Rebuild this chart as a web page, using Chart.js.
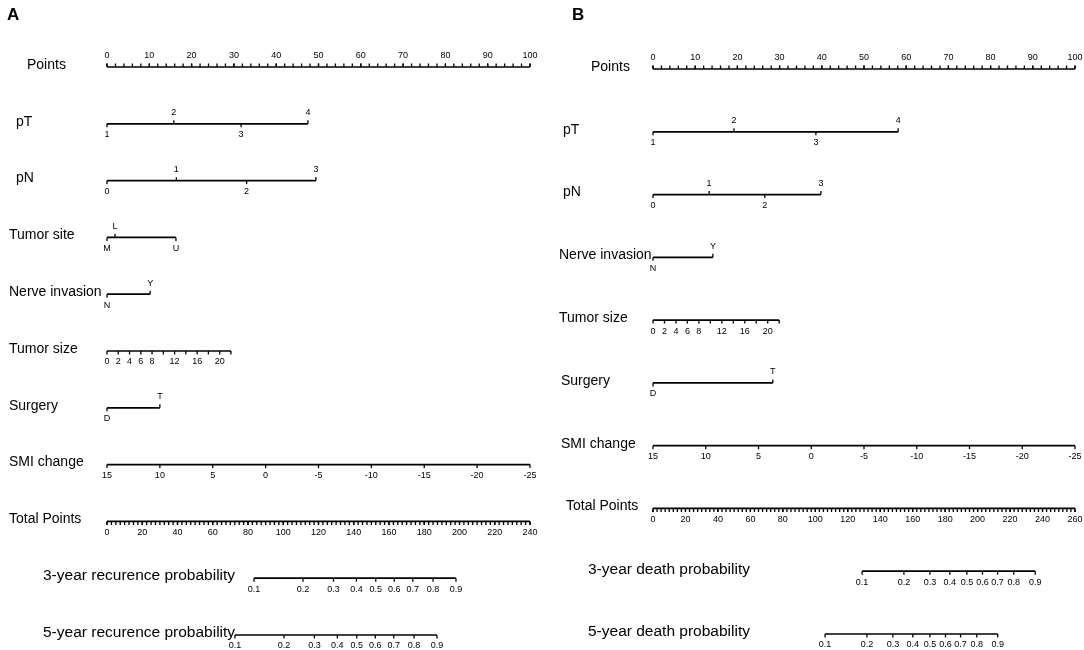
<!DOCTYPE html>
<html>
<head>
<meta charset="utf-8">
<script src="https://cdn.jsdelivr.net/npm/chart.js@4.4.1/dist/chart.umd.min.js"></script>
<style>
  html, body { margin: 0; padding: 0; background: #ffffff; }
  #wrap { display: flex; width: 1084px; height: 650px; }
  .panel { position: relative; width: 542px; height: 650px; }
</style>
</head>
<body>
<div id="wrap">
  <div class="panel"><canvas id="chartA"></canvas></div>
  <div class="panel"><canvas id="chartB"></canvas></div>
</div>
<script>
// ---------------- DATA ----------------
// Shared categories / tick labels
const pointsTicks = [0, 10, 20, 30, 40, 50, 60, 70, 80, 90, 100];
const pTLevels = ['1', '2', '3', '4'];
const pNLevels = ['0', '1', '2', '3'];
const siteLevels = ['M', 'L', 'U'];
const nerveLevels = ['N', 'Y'];
const surgeryLevels = ['D', 'T'];
const sizeValues = [0, 2, 4, 6, 8, 10, 12, 14, 16, 18, 20, 22];
const sizeLabels = ['0', '2', '4', '6', '8', '', '12', '', '16', '', '20', ''];
const smiValues = [15, 10, 5, 0, -5, -10, -15, -20, -25];
const probLevels = ['0.1', '0.2', '0.3', '0.4', '0.5', '0.6', '0.7', '0.8', '0.9'];

// Panel A (recurrence) – points assigned to each level
const pTPointsA = [0, 15.8, 31.7, 47.5];
const pNPointsA = [0, 16.4, 33.0, 49.4];
const sitePointsA = [0, 1.9, 16.3];
const nervePointsA = [0, 10.2];
const sizePointsA = [0, 2.66, 5.33, 7.99, 10.65, 13.32, 15.98, 18.64, 21.31, 23.97, 26.64, 29.3];
const surgeryPointsA = [0, 12.5];
const smiPointsA = [0, 12.5, 25, 37.5, 50, 62.5, 75, 87.5, 100];
const totalTicksA = [0, 20, 40, 60, 80, 100, 120, 140, 160, 180, 200, 220, 240];
const prob3TotalA = [83.4, 111.2, 128.5, 141.5, 152.5, 163.0, 173.5, 185.0, 198.0];
const prob5TotalA = [72.6, 100.4, 117.7, 130.7, 141.7, 152.2, 162.7, 174.2, 187.2];

// Panel B (death) – points assigned to each level
const pTPointsB = [0, 19.2, 38.6, 58.1];
const pNPointsB = [0, 13.3, 26.5, 39.8];
const nervePointsB = [0, 14.2];
const sizePointsB = [0, 2.72, 5.44, 8.15, 10.87, 13.59, 16.31, 19.03, 21.75, 24.46, 27.18, 29.9];
const surgeryPointsB = [0, 28.4];
const smiPointsB = [0, 12.5, 25, 37.5, 50, 62.5, 75, 87.5, 100];
const totalTicksB = [0, 20, 40, 60, 80, 100, 120, 140, 160, 180, 200, 220, 240, 260];
const prob3TotalB = [128.8, 154.6, 170.6, 182.9, 193.4, 203.0, 212.3, 222.3, 235.5];
const prob5TotalB = [106.0, 131.8, 147.8, 160.1, 170.6, 180.2, 189.5, 199.5, 212.4];

// ---------------- BUILDERS ----------------
const FONT = '"Liberation Sans", Arial, Helvetica, sans-serif';

function seq(a, b, step) { const r = []; for (let v = a; v <= b + 1e-9; v += step) r.push(+v.toFixed(4)); return r; }

function catMarks(levels, pts) {
  // alternate labels below / above like the reference
  return levels.map((t, i) => ({ v: pts[i], text: t, side: i % 2 === 0 ? 'below' : 'above' }));
}
function listMarks(labels, pts, side) {
  return labels.map((t, i) => ({ v: pts[i], text: String(t), side }));
}

function buildRowsA() {
  return [
    { name: 'Points', scale: 'x', marks: listMarks(pointsTicks, pointsTicks, 'above'), minor: seq(0, 100, 2), minorSide: 'above' },
    { name: 'pT', scale: 'x', marks: catMarks(pTLevels, pTPointsA) },
    { name: 'pN', scale: 'x', marks: catMarks(pNLevels, pNPointsA) },
    { name: 'Tumor site', scale: 'x', marks: catMarks(siteLevels, sitePointsA) },
    { name: 'Nerve invasion', scale: 'x', marks: catMarks(nerveLevels, nervePointsA) },
    { name: 'Tumor size', scale: 'x', marks: listMarks(sizeLabels, sizePointsA, 'below') },
    { name: 'Surgery', scale: 'x', marks: catMarks(surgeryLevels, surgeryPointsA) },
    { name: 'SMI change', scale: 'x', marks: listMarks(smiValues, smiPointsA, 'below') },
    { name: 'Total Points', scale: 'xt', marks: listMarks(totalTicksA, totalTicksA, 'below'), minor: seq(0, 240, 2.5), minorSide: 'below' },
    { name: '3-year recurence probability', scale: 'xt', marks: listMarks(probLevels, prob3TotalA, 'below'), big: true },
    { name: '5-year recurence probability', scale: 'xt', marks: listMarks(probLevels, prob5TotalA, 'below'), big: true }
  ];
}
function buildRowsB() {
  return [
    { name: 'Points', scale: 'x', marks: listMarks(pointsTicks, pointsTicks, 'above'), minor: seq(0, 100, 2), minorSide: 'above' },
    { name: 'pT', scale: 'x', marks: catMarks(pTLevels, pTPointsB) },
    { name: 'pN', scale: 'x', marks: catMarks(pNLevels, pNPointsB) },
    { name: 'Nerve invasion', scale: 'x', marks: catMarks(nerveLevels, nervePointsB) },
    { name: 'Tumor size', scale: 'x', marks: listMarks(sizeLabels, sizePointsB, 'below') },
    { name: 'Surgery', scale: 'x', marks: catMarks(surgeryLevels, surgeryPointsB) },
    { name: 'SMI change', scale: 'x', marks: listMarks(smiValues, smiPointsB, 'below') },
    { name: 'Total Points', scale: 'xt', marks: listMarks(totalTicksB, totalTicksB, 'below'), minor: seq(0, 260, 2.5), minorSide: 'below' },
    { name: '3-year death probability', scale: 'xt', marks: listMarks(probLevels, prob3TotalB, 'below'), big: true },
    { name: '5-year death probability', scale: 'xt', marks: listMarks(probLevels, prob5TotalB, 'below'), big: true }
  ];
}

// ---------------- LAYOUT (pixel placement of the panels, separate from data) ----------------
const layoutA = {
  letter: 'A', letterX: 7, padding: { left: 107, right: 12, top: 67, bottom: 15 },
  totalMax: 240,
  labelX: [27, 16, 16, 9, 9, 9, 9, 9, 9, 43, 43]
};
const layoutB = {
  letter: 'B', letterX: 30, padding: { left: 111, right: 9, top: 69, bottom: 16 },
  totalMax: 260,
  labelX: [49, 21, 21, 17, 17, 19, 19, 24, 46, 46]
};

const TICK = 3.5;

const nomogramPlugin = {
  id: 'nomogram',
  afterDatasetsDraw(chart, args, opts) {
    const { ctx } = chart;
    const rows = opts.rows, lay = opts.layout;
    const ys = chart.scales.y;
    ctx.save();
    ctx.strokeStyle = '#000';
    ctx.fillStyle = '#000';
    ctx.lineWidth = 1.3;
    rows.forEach((row, i) => {
      const y = ys.getPixelForValue(i);
      const xs = chart.scales[row.scale];
      // minor ticks
      if (row.minor) {
        const dir = row.minorSide === 'above' ? -1 : 1;
        ctx.beginPath();
        row.minor.forEach(v => {
          const px = xs.getPixelForValue(v);
          ctx.moveTo(px, y); ctx.lineTo(px, y + dir * TICK);
        });
        ctx.stroke();
      }
      // major ticks + labels
      ctx.font = '9px ' + FONT;
      ctx.textAlign = 'center';
      ctx.textBaseline = 'middle';
      row.marks.forEach(m => {
        const px = xs.getPixelForValue(m.v);
        const dir = m.side === 'above' ? -1 : 1;
        ctx.beginPath();
        ctx.moveTo(px, y); ctx.lineTo(px, y + dir * TICK);
        ctx.stroke();
        if (m.text) ctx.fillText(m.text, px, y + dir * 11);
      });
      // row label
      ctx.font = (row.big ? '15.5px ' : '14px ') + FONT;
      ctx.textAlign = 'left';
      ctx.fillText(row.name, lay.labelX[i], y - 2);
    });
    // panel letter
    ctx.font = 'bold 17px ' + FONT;
    ctx.textAlign = 'left';
    ctx.textBaseline = 'middle';
    ctx.fillText(lay.letter, lay.letterX, 15);
    ctx.restore();
  }
};

function makeChart(canvasId, rows, lay) {
  const datasets = rows.map((row, i) => {
    const vals = row.marks.map(m => m.v);
    return {
      label: row.name,
      data: [{ x: Math.min(...vals), y: i }, { x: Math.max(...vals), y: i }],
      xAxisID: row.scale,
      yAxisID: 'y',
      borderColor: '#000',
      borderWidth: 1.7,
      pointRadius: 0,
      pointHoverRadius: 0,
      fill: false,
      tension: 0,
      clip: false
    };
  });
  return new Chart(document.getElementById(canvasId), {
    type: 'line',
    data: { datasets },
    options: {
      responsive: true,
      maintainAspectRatio: false,
      animation: false,
      events: [],
      layout: { padding: lay.padding },
      plugins: {
        legend: { display: false },
        tooltip: { enabled: false },
        nomogram: { rows, layout: lay }
      },
      scales: {
        x: { type: 'linear', min: 0, max: 100, display: false },
        xt: { type: 'linear', min: 0, max: lay.totalMax, display: false },
        y: { type: 'linear', min: 0, max: rows.length - 1, reverse: true, display: false }
      }
    },
    plugins: [nomogramPlugin]
  });
}

makeChart('chartA', buildRowsA(), layoutA);
makeChart('chartB', buildRowsB(), layoutB);
</script>
</body>
</html>
